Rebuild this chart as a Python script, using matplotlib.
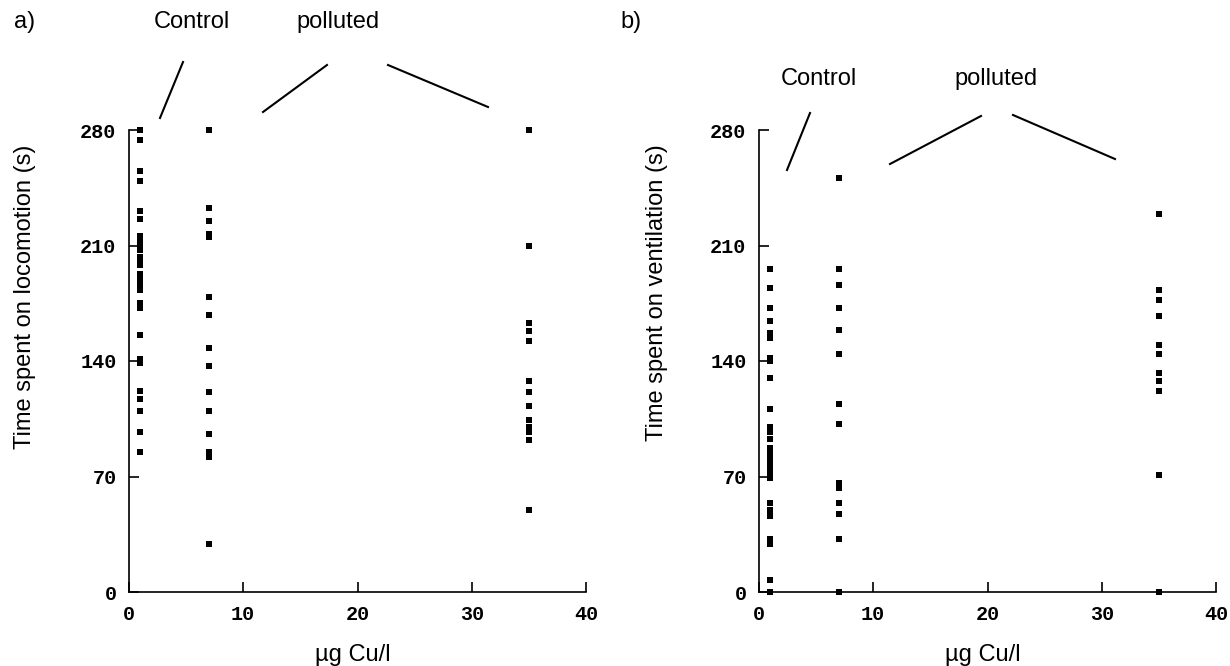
import matplotlib
matplotlib.use("Agg")
import matplotlib.pyplot as plt

## data (time in s)
loco_ctrl = [280, 274, 255, 249, 231, 226, 216, 212, 210, 207, 203, 200, 198, 193,
             189, 186, 183, 175, 172, 156, 141, 139, 122, 117, 110, 97, 85]
loco_7 = [280, 233, 225, 217, 215, 179, 168, 148, 137, 121, 110, 96, 85, 82, 29]
loco_35 = [280, 210, 163, 158, 152, 128, 121, 113, 104, 100, 97, 92, 50]

vent_ctrl = [196, 184, 172, 164, 157, 154, 142, 140, 130, 111, 100, 97, 93, 87,
             85, 82, 78, 75, 73, 69, 54, 50, 46, 32, 29, 7, 0]
vent_7 = [251, 196, 186, 172, 159, 144, 114, 102, 66, 63, 54, 47, 32, 0]
vent_35 = [229, 183, 177, 167, 150, 144, 133, 128, 122, 71, 0]

conc = [1, 7, 35]
yticks = [0, 70, 140, 210, 280]
xticks = [0, 10, 20, 30, 40]

W, H = 1230, 666
fig = plt.figure(figsize=(W / 100, H / 100), dpi=100)

def px(x, y):
    return x / W, 1 - y / H

def panel(left, groups, ylabel, ylab_xy, xlab_xy):
    ax = fig.add_axes([left / W, 1 - 592 / H, 457 / W, 462 / H])
    for c, vals in zip(conc, groups):
        ax.scatter([c] * len(vals), vals, marker="s", s=13, c="black",
                   linewidths=0, clip_on=False, zorder=3)
    ax.set_xlim(0, 40)
    ax.set_ylim(0, 280)
    ax.set_xticks(xticks)
    ax.set_yticks(yticks)
    ax.spines["top"].set_visible(False)
    ax.spines["right"].set_visible(False)
    ax.spines["left"].set_linewidth(1.2)
    ax.spines["bottom"].set_linewidth(1.2)
    ax.tick_params(direction="in", length=7, width=1.2, pad=9)
    for lab in ax.get_xticklabels() + ax.get_yticklabels():
        lab.set_fontfamily("Liberation Mono")
        lab.set_fontweight("bold")
        lab.set_fontsize(14.5)
    fig.text(*px(*ylab_xy), ylabel, rotation=90, ha="center", va="center",
             fontsize=17, family="Liberation Sans")
    fig.text(*px(*xlab_xy), "µg Cu/l", ha="center", va="center",
             fontsize=17, family="Liberation Sans")
    return ax

panel(129, [loco_ctrl, loco_7, loco_35], "Time spent on locomotion (s)", (25, 297), (353, 655))
panel(759, [vent_ctrl, vent_7, vent_35], "Time spent on ventilation (s)", (657, 293), (983, 655))

def label(x, y, s):
    fig.text(*px(x, y), s, ha="center", va="center", fontsize=17, family="Liberation Sans")

def line(x1, y1, x2, y2):
    a, b = px(x1, y1)
    c, d = px(x2, y2)
    fig.add_artist(plt.Line2D([a, c], [b, d], color="black", lw=1.5))

label(25, 22, "a)")
label(192, 22, "Control")
label(338, 22, "polluted")
line(183, 62, 160, 118)
line(263, 112, 327, 65)
line(388, 65, 488, 107)

label(631, 22, "b)")
label(819, 79, "Control")
label(996, 79, "polluted")
line(810, 113, 787, 170)
line(890, 164, 981, 116)
line(1013, 115, 1115, 159)

fig.savefig("out.png", dpi=100)
